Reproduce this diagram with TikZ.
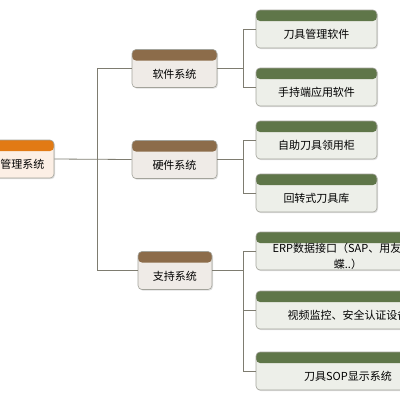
\documentclass[tikz,border=0pt]{standalone}
\usepackage{fontspec}
\setmainfont{Noto Sans CJK SC}
\usetikzlibrary{shadows}
\definecolor{rootHead}{HTML}{E27A14}
\definecolor{rootBody}{HTML}{FCEFE5}
\definecolor{sysHead}{HTML}{8C6C4A}
\definecolor{sysBody}{HTML}{EFEBE7}
\definecolor{leafHead}{HTML}{5F7649}
\definecolor{leafBody}{HTML}{EDEFE9}
\definecolor{boxLine}{HTML}{A3A39B}
\definecolor{linkGray}{HTML}{7E7C70}

\begin{document}
\begin{tikzpicture}[x=1pt,y=-1pt]
        \tikzstyle{box}=[rectangle,rounded corners=4pt,draw=boxLine,line width=0.6pt,minimum height=38pt,inner sep=0pt,text height=19pt,text depth=0pt,font=\fontsize{11}{16}\selectfont,drop shadow={shadow xshift=1pt,shadow yshift=-1.2pt,opacity=0.25}]
        \tikzstyle{root}=[box,fill=rootBody,minimum width=63pt,path picture={\fill[rootHead] (path picture bounding box.north west) rectangle ([yshift=-11pt]path picture bounding box.north east);}]
        \tikzstyle{sys}=[box,fill=sysBody,minimum width=85pt,path picture={\fill[sysHead] (path picture bounding box.north west) rectangle ([yshift=-11pt]path picture bounding box.north east);}]
        \tikzstyle{leaf}=[box,fill=leafBody,minimum width=121pt,path picture={\fill[leafHead] (path picture bounding box.north west) rectangle ([yshift=-11pt]path picture bounding box.north east);}]
        \tikzstyle{wide}=[leaf,minimum width=184pt]
        \tikzstyle{link}=[draw=linkGray,line width=0.8pt]
        \useasboundingbox (0,0) rectangle (400,400);
        \clip (0,0) rectangle (400,400);
        % trunk and forks
        \coordinate (trunk) at (97,0);
        \coordinate (fork) at (243.5,0);
        \node[root] (mgmt) at (22.5,159) {管理系统};
        \node[sys] (soft) at (174.5,68.5) {软件系统};
        \node[sys] (hard) at (174.5,159.5) {硬件系统};
        \node[sys,minimum width=74pt] (supp) at (175,270.5) {支持系统};
        \node[leaf] (soft_1) at (316.5,29) {刀具管理软件};
        \node[leaf] (soft_2) at (316.5,87) {手持端应用软件};
        \node[leaf] (hard_1) at (316.5,140) {自助刀具领用柜};
        \node[leaf] (hard_2) at (316.5,193) {回转式刀具库};
        \node[wide,align=center,text height=35pt,text depth=0pt] (supp_1) at (348,251) {ERP数据接口（SAP、用友、金\\蝶..）};
        \node[wide] (supp_2) at (348,310) {视频监控、安全认证设备};
        \node[wide] (supp_3) at (348,371) {刀具SOP显示系统};
        \draw[link] (mgmt.east) -- (hard.west);
        \draw[link] (soft.west) -- (soft.west -| trunk) -- (supp.west -| trunk) -- (supp.west);
        \draw[link] (soft.east) -- (soft.east -| fork);
        \draw[link] (soft_1.west) -- (soft_1.west -| fork) -- (soft_2.west -| fork) -- (soft_2.west);
        \draw[link] (hard.east) -- (hard.east -| fork);
        \draw[link] (hard_1.west) -- (hard_1.west -| fork) -- (hard_2.west -| fork) -- (hard_2.west);
        \draw[link] (supp.east) -- (supp.east -| fork);
        \draw[link] (supp_1.west) -- (supp_1.west -| fork) -- (supp_3.west -| fork) -- (supp_3.west);
        \draw[link] (supp_2.west) -- (supp_2.west -| fork);
\end{tikzpicture}
\end{document}
